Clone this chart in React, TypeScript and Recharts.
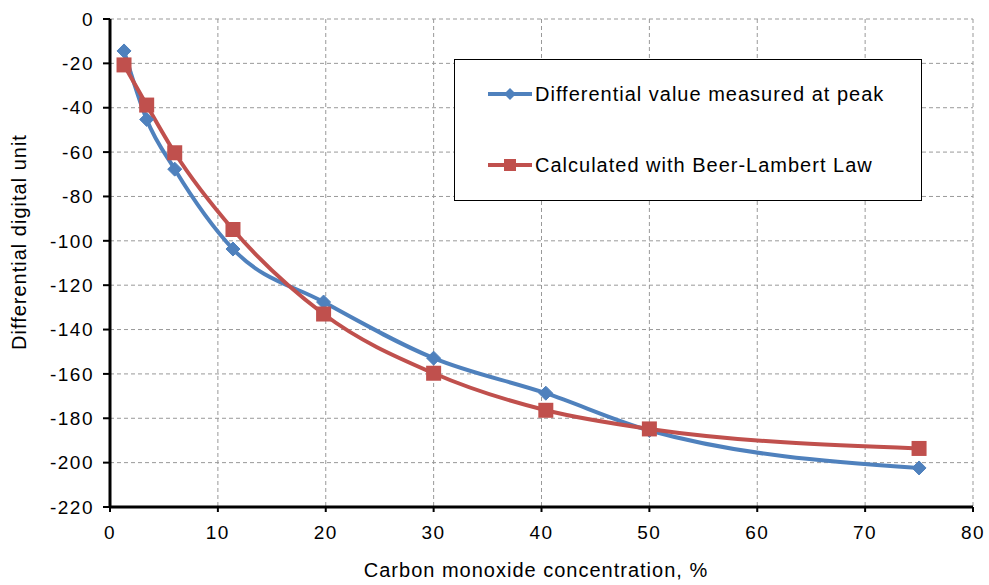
import { LineChart, Line, XAxis, YAxis, CartesianGrid, Legend, Label } from "recharts";

// Values
const concentration = [1.3, 3.4, 6.0, 11.4, 19.8, 30.0, 40.4, 50.0, 75.0];
const measured = [-14.4, -45.3, -67.7, -103.7, -127.6, -152.9, -168.7, -185.5, -202.4];
const calculated = [-20.7, -38.8, -60.3, -94.9, -133.0, -159.7, -176.4, -184.8, -193.6];

const xTicks = [0, 10, 20, 30, 40, 50, 60, 70, 80];
const yTicks = [0, -20, -40, -60, -80, -100, -120, -140, -160, -180, -200, -220];

const SERIES_NAMES = ["Differential value measured at peak", "Calculated with Beer-Lambert Law"];
const BLUE = "#4F81BD";
const RED = "#C0504D";
const FONT = "'Liberation Sans', Arial, sans-serif";

const data = concentration.map((x, i) => ({
  x,
  measured: measured[i],
  calculated: calculated[i],
}));

const Diamond = (props: any) => {
  const { cx, cy } = props;
  if (cx == null || cy == null) return null;
  const r = 7;
  return (
    <path
      d={`M${cx},${cy - r}L${cx + r},${cy}L${cx},${cy + r}L${cx - r},${cy}Z`}
      fill={BLUE}
      stroke={BLUE}
    />
  );
};

const Square = (props: any) => {
  const { cx, cy } = props;
  if (cx == null || cy == null) return null;
  const s = 15;
  return <rect x={cx - s / 2} y={cy - s / 2} width={s} height={s} fill={RED} />;
};

const renderLegend = () => (
  <div
    style={{
      width: 468,
      height: 142,
      boxSizing: "border-box",
      border: "1.5px solid #000",
      background: "#fff",
      position: "relative",
      fontFamily: FONT,
      fontSize: 20,
      letterSpacing: 1,
      color: "#000",
    }}
  >
    {SERIES_NAMES.map((name, i) => (
      <div
        key={name}
        style={{
          position: "absolute",
          left: 33,
          top: i === 0 ? 21 : 92,
          height: 26,
          display: "flex",
          alignItems: "center",
          whiteSpace: "nowrap",
        }}
      >
        <svg width={44} height={20} style={{ marginRight: 3 }}>
          <line x1={0} y1={10} x2={44} y2={10} stroke={i === 0 ? BLUE : RED} strokeWidth={4} />
          {i === 0 ? (
            <path d="M22,4L28,10L22,16L16,10Z" fill={BLUE} />
          ) : (
            <rect x={16} y={4} width={12} height={12} fill={RED} />
          )}
        </svg>
        <span>{name}</span>
      </div>
    ))}
  </div>
);

const tickStyle = { fill: "#000", fontSize: 19, fontFamily: FONT, letterSpacing: 1.5 };

export default function App() {
  return (
    <div style={{ position: "absolute", left: 0, top: 0, background: "#fff" }}>
      <LineChart
        width={989}
        height={585}
        data={data}
        margin={{ top: 19, right: 16, bottom: 0, left: 0 }}
      >
        <CartesianGrid stroke="#999" strokeDasharray="4 3" strokeWidth={1} />
        <XAxis
          dataKey="x"
          type="number"
          domain={[0, 80]}
          ticks={xTicks}
          interval={0}
          height={78}
          axisLine={{ stroke: "#000", strokeWidth: 3 }}
          tickLine={{ stroke: "#000", strokeWidth: 2 }}
          tickSize={5}
          tickMargin={14}
          tick={tickStyle}
        >
          <Label
            content={() => (
              <text
                x={536}
                y={577}
                textAnchor="middle"
                fontFamily={FONT}
                fontSize={20}
                letterSpacing={1}
                fill="#000"
              >
                Carbon monoxide concentration, %
              </text>
            )}
          />
        </XAxis>
        <YAxis
          type="number"
          domain={[-220, 0]}
          ticks={yTicks}
          interval={0}
          width={110}
          axisLine={{ stroke: "#000", strokeWidth: 3 }}
          tickLine={{ stroke: "#000", strokeWidth: 2 }}
          tickSize={7}
          tickMargin={9}
          tick={tickStyle}
        >
          <Label
            content={() => (
              <text
                x={26}
                y={242}
                transform="rotate(-90 26 242)"
                textAnchor="middle"
                fontFamily={FONT}
                fontSize={20}
                letterSpacing={1}
                fill="#000"
              >
                Differential digital unit
              </text>
            )}
          />
        </YAxis>
        <Legend
          layout="horizontal"
          verticalAlign="middle"
          align="center"
          wrapperStyle={{ top: 59, left: 454, width: 468, height: 142 }}
          content={renderLegend}
        />
        <Line
          type="monotone"
          dataKey="measured"
          name={SERIES_NAMES[0]}
          stroke={BLUE}
          strokeWidth={4}
          dot={<Diamond />}
          isAnimationActive={false}
        />
        <Line
          type="monotone"
          dataKey="calculated"
          name={SERIES_NAMES[1]}
          stroke={RED}
          strokeWidth={4}
          dot={<Square />}
          isAnimationActive={false}
        />
      </LineChart>
    </div>
  );
}
